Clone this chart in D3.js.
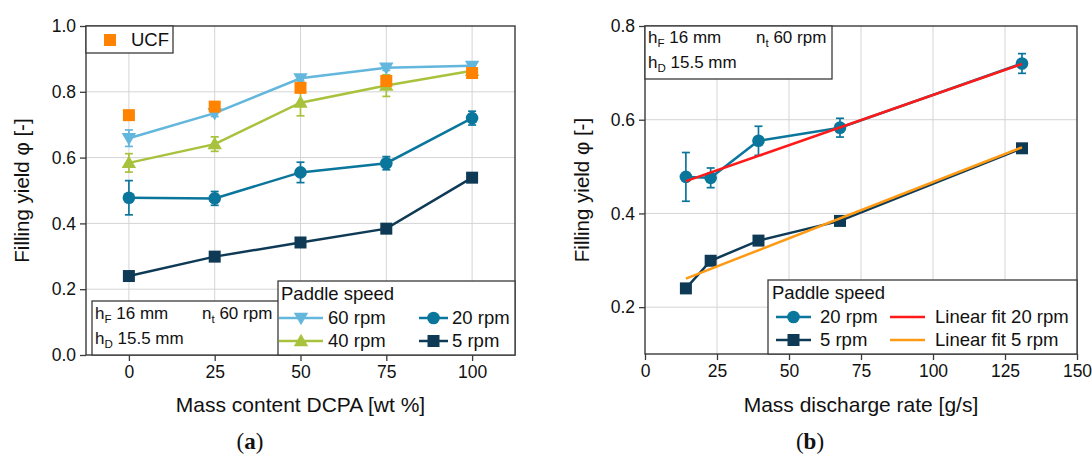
<!DOCTYPE html>
<html>
<head>
<meta charset="utf-8">
<script src="https://cdn.jsdelivr.net/npm/d3@7/dist/d3.min.js"></script>
<style>
  body { margin: 0; background: #fff; }
  svg { display: block; font-family: "Liberation Sans", Arial, sans-serif; }
</style>
</head>
<body>
<svg id="chart" width="1092" height="459"></svg>
<script>
// ---------- Panel (a): filling yield vs. DCPA mass content ----------
const dcpaContent = [0, 25, 50, 75, 100];
const xTicksA = [0, 25, 50, 75, 100];
const yTicksA = [0.0, 0.2, 0.4, 0.6, 0.8, 1.0];

const yield60 = [0.659, 0.735, 0.841, 0.873, 0.879];
const err60   = [0.025, 0.010, 0.008, 0.008, 0.006];
const yield40 = [0.584, 0.641, 0.767, 0.819, 0.864];
const err40   = [0.028, 0.022, 0.040, 0.033, 0.010];
const yield20 = [0.478, 0.476, 0.555, 0.583, 0.720];
const err20   = [0.052, 0.021, 0.031, 0.020, 0.021];
const yield5  = [0.240, 0.299, 0.342, 0.384, 0.539];
const err5    = [0.009, 0.009, 0.008, 0.008, 0.008];
const yieldUCF = [0.729, 0.755, 0.812, 0.833, 0.857];

// ---------- Panel (b): filling yield vs. mass discharge rate ----------
const dischargeRate = [14.2, 22.8, 39.4, 67.7, 130.9];
const xTicksB = [0, 25, 50, 75, 100, 125, 150];
const yTicksB = [0.2, 0.4, 0.6, 0.8];
const fitRate  = [14.2, 130.9];
const fit20    = [0.469, 0.719];
const fit5     = [0.261, 0.541];

// Colours
const C60 = "#63b6dc", C40 = "#a8c23d", C20 = "#0b769c", C5 = "#0f3a56";
const CUCF = "#ff8300", CFIT20 = "#ff1a1a", CFIT5 = "#ff9a14";
const FRAME = "#3a3a3a", GRID = "#d4d4d4";

const svg = d3.select("#chart");

const symCircle = d3.symbol().type(d3.symbolCircle).size(125);
const symSquare = d3.symbol().type(d3.symbolSquare).size(144);
const symTri    = d3.symbol().type(d3.symbolTriangle).size(90);

function marker(g, kind, cx, cy, color) {
  const p = g.append("path").attr("fill", color);
  if (kind === "circle") p.attr("d", symCircle()).attr("transform", `translate(${cx},${cy})`);
  else if (kind === "square") p.attr("d", symSquare()).attr("transform", `translate(${cx},${cy})`);
  else if (kind === "up") p.attr("d", symTri()).attr("transform", `translate(${cx},${cy + 1})`);
  else if (kind === "down") p.attr("d", symTri()).attr("transform", `translate(${cx},${cy - 1}) rotate(180)`);
  return p;
}

// text with a subscript, e.g. h_F 16 mm
function subText(g, x, y, main, sub, rest, size) {
  const t = g.append("text").attr("x", x).attr("y", y)
    .attr("font-size", size).attr("fill", "#111");
  t.append("tspan").text(main);
  t.append("tspan").text(sub).attr("font-size", size * 0.68).attr("dy", 4);
  t.append("tspan").text(rest).attr("dy", -4);
  return t;
}

function makePanel(cfg) {
  const g = svg.append("g");
  const x = d3.scaleLinear().domain(cfg.xDomain).range([cfg.left, cfg.right]);
  const y = d3.scaleLinear().domain(cfg.yDomain).range([cfg.bottom, cfg.top]);

  // grid
  g.append("g").selectAll("line").data(cfg.xGrid).join("line")
    .attr("x1", d => x(d)).attr("x2", d => x(d))
    .attr("y1", cfg.top).attr("y2", cfg.bottom)
    .attr("stroke", GRID).attr("stroke-width", 1);
  g.append("g").selectAll("line").data(cfg.yGrid).join("line")
    .attr("y1", d => y(d)).attr("y2", d => y(d))
    .attr("x1", cfg.left).attr("x2", cfg.right)
    .attr("stroke", GRID).attr("stroke-width", 1);

  // axes
  const ax = g.append("g").attr("transform", `translate(0,${cfg.bottom})`)
    .call(d3.axisBottom(x).tickValues(cfg.xTicks).tickSize(6).tickPadding(5).tickFormat(d3.format("d")));
  const ay = g.append("g").attr("transform", `translate(${cfg.left},0)`)
    .call(d3.axisLeft(y).tickValues(cfg.yTicks).tickSize(6).tickPadding(4).tickFormat(d3.format(".1f")));
  [ax, ay].forEach(a => {
    a.select(".domain").remove();
    a.selectAll(".tick line").attr("stroke", FRAME).attr("stroke-width", 1.3);
    a.selectAll(".tick text").attr("font-size", 17.5).attr("fill", "#111")
      .attr("font-family", '"Liberation Sans", Arial, sans-serif');
  });

  // axis titles
  g.append("text").attr("x", (cfg.left + cfg.right) / 2).attr("y", 412)
    .attr("text-anchor", "middle").attr("font-size", 21).attr("fill", "#111")
    .text(cfg.xTitle);
  g.append("text")
    .attr("transform", `translate(${cfg.yTitleX},${(cfg.top + cfg.bottom) / 2}) rotate(-90)`)
    .attr("text-anchor", "middle").attr("dominant-baseline", "central")
    .attr("font-size", 20.5).attr("fill", "#111")
    .text("Filling yield \u03c6 [-]");

  return { g, x, y };
}

function drawSeries(p, xs, ys, es, color, kind, withLine) {
  const pts = d3.zip(xs, ys, es || xs.map(() => 0));
  if (withLine) {
    p.g.append("path").datum(pts)
      .attr("fill", "none").attr("stroke", color).attr("stroke-width", 2.5)
      .attr("d", d3.line().x(d => p.x(d[0])).y(d => p.y(d[1])));
  }
  if (es) {
    const eb = p.g.append("g").attr("stroke", color).attr("stroke-width", 1.7);
    pts.forEach(d => {
      const cx = p.x(d[0]), y1 = p.y(d[1] + d[2]), y2 = p.y(d[1] - d[2]);
      eb.append("line").attr("x1", cx).attr("x2", cx).attr("y1", y1).attr("y2", y2);
      eb.append("line").attr("x1", cx - 4).attr("x2", cx + 4).attr("y1", y1).attr("y2", y1);
      eb.append("line").attr("x1", cx - 4).attr("x2", cx + 4).attr("y1", y2).attr("y2", y2);
    });
  }
  pts.forEach(d => marker(p.g, kind, p.x(d[0]), p.y(d[1]), color));
}

function frame(p, cfg) {
  p.g.append("rect").attr("x", cfg.left).attr("y", cfg.top)
    .attr("width", cfg.right - cfg.left).attr("height", cfg.bottom - cfg.top)
    .attr("fill", "none").attr("stroke", FRAME).attr("stroke-width", 1.4);
}

function box(g, x0, y0, x1, y1) {
  g.append("rect").attr("x", x0).attr("y", y0).attr("width", x1 - x0).attr("height", y1 - y0)
    .attr("fill", "#fff").attr("stroke", FRAME).attr("stroke-width", 1.3);
}

function legendEntry(g, x0, x1, y, color, kind, label, tx) {
  g.append("line").attr("x1", x0).attr("x2", x1).attr("y1", y).attr("y2", y)
    .attr("stroke", color).attr("stroke-width", 2.5);
  if (kind) marker(g, kind, (x0 + x1) / 2, y, color);
  g.append("text").attr("x", tx).attr("y", y).attr("dy", "0.35em")
    .attr("font-size", 18.5).attr("fill", "#111").text(label);
}

// ---------------- Panel (a) ----------------
const cfgA = {
  left: 86, right: 515, top: 26, bottom: 355,
  xDomain: [-12.5, 112.5], yDomain: [0, 1],
  xTicks: xTicksA, yTicks: yTicksA,
  xGrid: xTicksA, yGrid: [0.2, 0.4, 0.6, 0.8],
  xTitle: "Mass content DCPA [wt %]", yTitleX: 21
};
const pA = makePanel(cfgA);
drawSeries(pA, dcpaContent, yield5, err5, C5, "square", true);
drawSeries(pA, dcpaContent, yield20, err20, C20, "circle", true);
drawSeries(pA, dcpaContent, yield40, err40, C40, "up", true);
drawSeries(pA, dcpaContent, yield60, err60, C60, "down", true);
drawSeries(pA, dcpaContent, yieldUCF, null, CUCF, "square", false);
frame(pA, cfgA);

// UCF legend
box(pA.g, 86, 26, 173, 53);
marker(pA.g, "square", 110, 40, CUCF);
pA.g.append("text").attr("x", 131).attr("y", 40).attr("dy", "0.35em")
  .attr("font-size", 18.5).attr("fill", "#111").text("UCF");

// process parameters
box(pA.g, 92, 301, 290, 355);
subText(pA.g, 95, 319, "h", "F", " 16 mm", 17);
subText(pA.g, 202, 319, "n", "t", " 60 rpm", 17);
subText(pA.g, 95, 344, "h", "D", " 15.5 mm", 17);

// paddle speed legend
box(pA.g, 278, 281, 515, 355);
pA.g.append("text").attr("x", 281).attr("y", 294).attr("dy", "0.35em")
  .attr("font-size", 18.5).attr("fill", "#111").text("Paddle speed");
legendEntry(pA.g, 279, 323, 318, C60, "down", "60 rpm", 328);
legendEntry(pA.g, 279, 323, 341, C40, "up", "40 rpm", 328);
legendEntry(pA.g, 419, 448, 318, C20, "circle", "20 rpm", 452);
legendEntry(pA.g, 419, 448, 341, C5, "square", "5 rpm", 452);

// ---------------- Panel (b) ----------------
const cfgB = {
  left: 645, right: 1077, top: 26, bottom: 354,
  xDomain: [0, 150], yDomain: [0.1, 0.8],
  xTicks: xTicksB, yTicks: yTicksB,
  xGrid: [25, 50, 75, 100, 125], yGrid: [0.2, 0.4, 0.6],
  xTitle: "Mass discharge rate [g/s]", yTitleX: 581
};
const pB = makePanel(cfgB);
drawSeries(pB, dischargeRate, yield5, err5, C5, "square", true);
drawSeries(pB, dischargeRate, yield20, err20, C20, "circle", true);
[[fit20, CFIT20], [fit5, CFIT5]].forEach(([fy, col]) => {
  pB.g.append("path").datum(d3.zip(fitRate, fy))
    .attr("fill", "none").attr("stroke", col).attr("stroke-width", 2.5)
    .attr("d", d3.line().x(d => pB.x(d[0])).y(d => pB.y(d[1])));
});
frame(pB, cfgB);

box(pB.g, 645, 26, 832, 79);
subText(pB.g, 648, 43, "h", "F", " 16 mm", 17);
subText(pB.g, 756, 43, "n", "t", " 60 rpm", 17);
subText(pB.g, 648, 68, "h", "D", " 15.5 mm", 17);

box(pB.g, 768, 280, 1077, 354);
pB.g.append("text").attr("x", 772).attr("y", 293).attr("dy", "0.35em")
  .attr("font-size", 18.5).attr("fill", "#111").text("Paddle speed");
legendEntry(pB.g, 776, 811, 317, C20, "circle", "20 rpm", 820);
legendEntry(pB.g, 776, 811, 340, C5, "square", "5 rpm", 820);
legendEntry(pB.g, 890, 925, 317, CFIT20, null, "Linear fit 20 rpm", 935);
legendEntry(pB.g, 890, 925, 340, CFIT5, null, "Linear fit 5 rpm", 935);

// sub-figure captions
[["a", 250], ["b", 810]].forEach(([letter, cx]) => {
  const t = svg.append("text").attr("x", cx).attr("y", 449)
    .attr("text-anchor", "middle").attr("font-size", 23)
    .attr("font-family", '"Liberation Serif", "DejaVu Serif", serif').attr("fill", "#111");
  t.append("tspan").text("(");
  t.append("tspan").text(letter).attr("font-weight", "bold");
  t.append("tspan").text(")");
});
</script>
</body>
</html>
